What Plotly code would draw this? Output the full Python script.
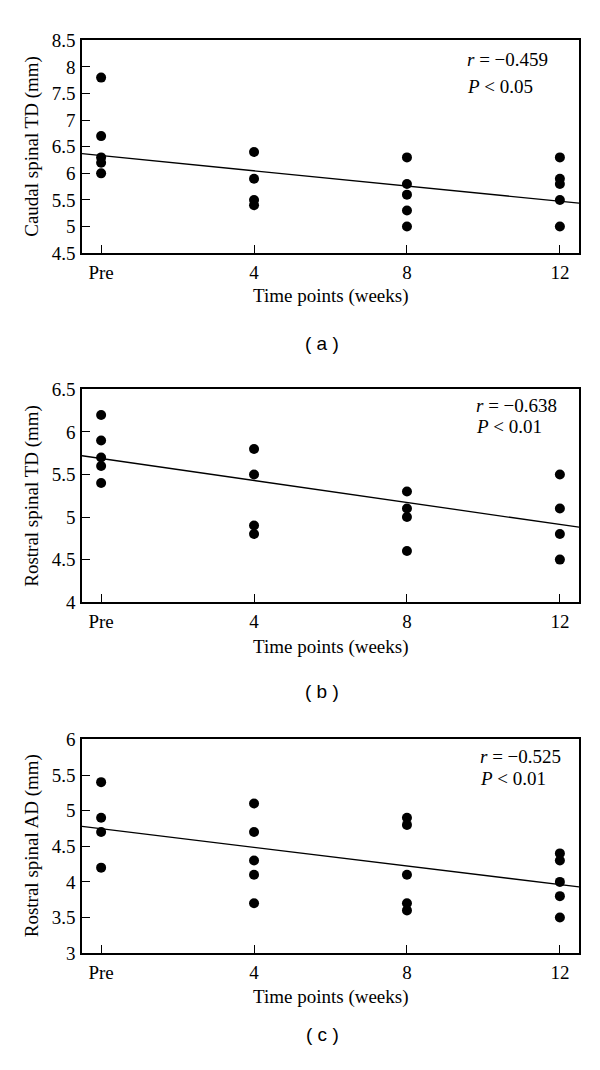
import plotly.graph_objects as go
import numpy as np

# ---- data ----
week_ticks = [0, 4, 8, 12]
week_labels = ["Pre", "4", "8", "12"]

a_x = [0]*5 + [4]*4 + [8]*5 + [12]*5
a_y = [7.8, 6.7, 6.3, 6.2, 6.0,
       6.4, 5.9, 5.5, 5.4,
       6.3, 5.8, 5.6, 5.3, 5.0,
       6.3, 5.9, 5.8, 5.5, 5.0]

b_x = [0]*5 + [4]*4 + [8]*4 + [12]*4
b_y = [6.2, 5.9, 5.7, 5.6, 5.4,
       5.8, 5.5, 4.9, 4.8,
       5.3, 5.1, 5.0, 4.6,
       5.5, 5.1, 4.8, 4.5]

c_x = [0]*4 + [4]*5 + [8]*5 + [12]*5
c_y = [5.4, 4.9, 4.7, 4.2,
       5.1, 4.7, 4.3, 4.1, 3.7,
       4.9, 4.8, 4.1, 3.7, 3.6,
       4.4, 4.3, 4.0, 3.8, 3.5]

# regression lines (intercept at Pre, slope per week)
fit_intercepts = [6.334, 5.688, 4.747]
fit_slopes = [-0.0715, -0.0646, -0.0654]

r_texts = ["<i>r</i> = −0.459", "<i>r</i> = −0.638", "<i>r</i> = −0.525"]
p_texts = ["<i>P</i> < 0.05", "<i>P</i> < 0.01", "<i>P</i> < 0.01"]
y_titles = ["Caudal spinal TD (mm)", "Rostral spinal TD (mm)", "Rostral spinal AD (mm)"]
y_ranges = [[4.5, 8.5], [4, 6.5], [3, 6]]
y_ticks = [[4.5, 5, 5.5, 6, 6.5, 7, 7.5, 8, 8.5],
           [4, 4.5, 5, 5.5, 6, 6.5],
           [3, 3.5, 4, 4.5, 5, 5.5, 6]]
y_ticklabels = [["4.5", "5", "5.5", "6", "6.5", "7", "7.5", "8", "8.5"],
                ["4", "4.5", "5", "5.5", "6", "6.5"],
                ["3", "3.5", "4", "4.5", "5", "5.5", "6"]]
panel_labels = ["( a )", "( b )", "( c )"]
x_range = [-0.5, 12.5]

# ---- layout geometry (pixels) ----
W, H = 600, 1070
left_px, right_px = 82, 579
panels_px = [(31, 248), (387, 604), (744, 962)]  # top, bottom
r_text_px = [(465, 50, 78), (474, 403, 425), (478, 761, 784)]
xtitle_y_px = [292, 650, 1007]
label_y_px = [340, 695, 1045]

SERIF = "Liberation Serif"
FS = 19

def py(p):
    return 1 - p / H

def px(p):
    return p / W

fig = go.Figure()
datasets = [(a_x, a_y), (b_x, b_y), (c_x, c_y)]
annotations = []
for i, (xs, ys) in enumerate(datasets):
    n = "" if i == 0 else str(i + 1)
    xa, ya = "x" + n, "y" + n
    lx = np.array(x_range)
    ly = fit_intercepts[i] + fit_slopes[i] * lx
    fig.add_trace(go.Scatter(x=lx, y=ly, mode="lines",
                             line=dict(color="black", width=1.3),
                             xaxis=xa, yaxis=ya, showlegend=False, hoverinfo="skip"))
    fig.add_trace(go.Scatter(x=xs, y=ys, mode="markers",
                             marker=dict(color="black", size=10),
                             xaxis=xa, yaxis=ya, showlegend=False))
    top, bot = panels_px[i]
    axis_common = dict(showline=True, linecolor="black", linewidth=1.5, mirror=True,
                       ticks="inside", ticklen=8, tickcolor="black", tickwidth=1.2,
                       showgrid=False, zeroline=False,
                       tickfont=dict(family=SERIF, size=FS, color="black"))
    fig.update_layout(**{
        "xaxis" + n: dict(domain=[px(left_px), px(right_px)], range=x_range,
                          tickvals=week_ticks, ticktext=week_labels,
                          anchor=ya, ticklabelstandoff=1, **axis_common),
        "yaxis" + n: dict(domain=[py(bot), py(top)], range=y_ranges[i],
                          tickvals=y_ticks[i], ticktext=y_ticklabels[i],
                          anchor=xa, ticklabelstandoff=1, **axis_common),
    })
    tx, ty1, ty2 = r_text_px[i]
    annotations.append(dict(x=px(tx), y=py(ty1), xref="paper", yref="paper",
                            text=r_texts[i], showarrow=False, xanchor="left", yanchor="middle",
                            font=dict(family=SERIF, size=FS, color="black")))
    annotations.append(dict(x=px(tx), y=py(ty2), xref="paper", yref="paper",
                            text=p_texts[i], showarrow=False, xanchor="left", yanchor="middle",
                            font=dict(family=SERIF, size=FS, color="black")))
    annotations.append(dict(x=px((left_px + right_px) / 2), y=py(xtitle_y_px[i]),
                            xref="paper", yref="paper", text="Time points (weeks)",
                            showarrow=False, xanchor="center", yanchor="middle",
                            font=dict(family=SERIF, size=FS, color="black")))
    annotations.append(dict(x=px(32), y=py((top + bot) / 2), xref="paper", yref="paper",
                            text=y_titles[i], textangle=-90, showarrow=False,
                            xanchor="center", yanchor="middle",
                            font=dict(family=SERIF, size=FS, color="black")))
    annotations.append(dict(x=px(322), y=py(label_y_px[i]), xref="paper", yref="paper",
                            text=panel_labels[i], showarrow=False,
                            xanchor="center", yanchor="middle",
                            font=dict(family="Liberation Sans", size=19, color="black")))

fig.update_layout(width=W, height=H, margin=dict(l=0, r=0, t=0, b=0),
                  plot_bgcolor="white", paper_bgcolor="white",
                  annotations=annotations)

post = "document.body.style.margin='0';"

fig.write_html("out.html", config={"displayModeBar": False}, post_script=post)
